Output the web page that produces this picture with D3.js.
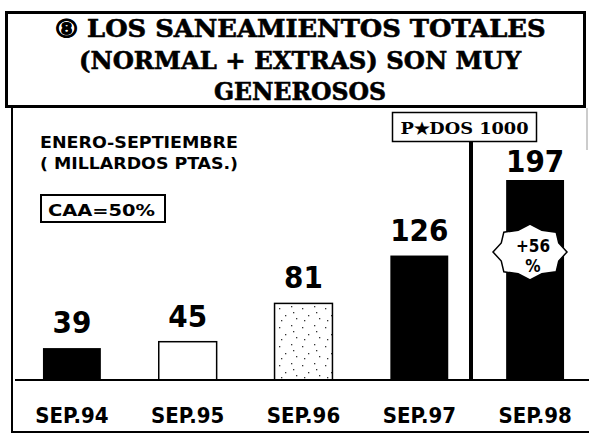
<!DOCTYPE html>
<html>
<head>
<meta charset="utf-8">
<script src="https://cdn.jsdelivr.net/npm/d3@7"></script>
<style>
  html, body { margin: 0; padding: 0; background: #fff; }
  svg { display: block; }
  .num { font-family: "DejaVu Sans Condensed", "DejaVu Sans", sans-serif; font-weight: bold; }
  .serif { font-family: "DejaVu Serif", "Liberation Serif", serif; font-weight: bold; }
</style>
</head>
<body>
<div id="chart"></div>
<script>
// data
const categories = ['SEP.94', 'SEP.95', 'SEP.96', 'SEP.97', 'SEP.98'];
const values = [39, 45, 81, 126, 197];
const fills = ['black', 'white', 'stipple', 'black', 'black'];
const titleLines = ['\u2467 LOS SANEAMIENTOS TOTALES', '(NORMAL + EXTRAS) SON MUY', 'GENEROSOS'];
const subtitleLines = ['ENERO-SEPTIEMBRE', '( MILLARDOS PTAS.)'];
const cagrLabel = 'CAA=50%';
const forecastLabel = 'P\u2605DOS 1000';
const growthLabel = ['+56', '%'];

const width = 589, height = 435;
const baseline = 380;

const svg = d3.select('#chart').append('svg')
  .attr('width', width)
  .attr('height', height);

svg.append('rect').attr('width', width).attr('height', height).attr('fill', '#fff');

// stipple pattern for the 1996 bar (sparse dots)
const defs = svg.append('defs');
const pat = defs.append('pattern')
  .attr('id', 'stipple')
  .attr('patternUnits', 'userSpaceOnUse')
  .attr('width', 23).attr('height', 19);
pat.append('rect').attr('width', 23).attr('height', 19).attr('fill', '#fff');
[[3, 4], [15, 2], [9, 11], [20, 14], [5, 16], [17, 8]].forEach(([px, py]) => {
  pat.append('rect').attr('x', px).attr('y', py).attr('width', 1.3).attr('height', 1.3).attr('fill', '#333');
});

// scales
const x = d3.scaleBand()
  .domain(categories)
  .range([14, 593])
  .paddingInner(0.5)
  .paddingOuter(0.25);

const y = d3.scaleLinear()
  .domain([9, 197])
  .range([baseline, 180]);

// frame: title box
svg.append('rect')
  .attr('x', 6.5).attr('y', 12.5)
  .attr('width', 578).attr('height', 94)
  .attr('fill', 'none').attr('stroke', '#000').attr('stroke-width', 3);

// chart frame lines
svg.append('line').attr('x1', 12).attr('x2', 12).attr('y1', 106).attr('y2', 433)
  .attr('stroke', '#000').attr('stroke-width', 2);
svg.append('line').attr('x1', 12).attr('x2', 589).attr('y1', 432).attr('y2', 432)
  .attr('stroke', '#000').attr('stroke-width', 2);
svg.append('line').attr('x1', 587).attr('x2', 587).attr('y1', 108).attr('y2', 150)
  .attr('stroke', '#999').attr('stroke-width', 1);

// title
const titleWidths = [491, 442, 172];
svg.append('g').selectAll('text')
  .data(titleLines)
  .enter().append('text')
  .attr('class', 'serif')
  .attr('x', 300)
  .attr('y', (d, i) => 37 + i * 31.5)
  .attr('text-anchor', 'middle')
  .attr('font-size', 24)
  .attr('stroke', '#000')
  .attr('stroke-width', 0.6)
  .attr('textLength', (d, i) => titleWidths[i])
  .attr('lengthAdjust', 'spacingAndGlyphs')
  .text(d => d);

// subtitle
svg.append('g').selectAll('text')
  .data(subtitleLines)
  .enter().append('text')
  .attr('class', 'num')
  .attr('x', 40)
  .attr('y', (d, i) => 148 + i * 21)
  .attr('font-size', 16)
  .attr('textLength', 198)
  .attr('lengthAdjust', 'spacingAndGlyphs')
  .text(d => d);

// CAA box
svg.append('rect')
  .attr('x', 41).attr('y', 195)
  .attr('width', 124).attr('height', 27)
  .attr('fill', '#fff').attr('stroke', '#000').attr('stroke-width', 2);
svg.append('text')
  .attr('class', 'num')
  .attr('x', 48).attr('y', 216)
  .attr('font-size', 16)
  .attr('textLength', 107)
  .attr('lengthAdjust', 'spacingAndGlyphs')
  .text(cagrLabel);

// forecast divider + box
svg.append('line')
  .attr('x1', 471).attr('x2', 471)
  .attr('y1', 140).attr('y2', baseline)
  .attr('stroke', '#000').attr('stroke-width', 4);
svg.append('rect')
  .attr('x', 392.5).attr('y', 112.5)
  .attr('width', 144).attr('height', 29)
  .attr('fill', '#fff').attr('stroke', '#000').attr('stroke-width', 1.5);
svg.append('text')
  .attr('class', 'serif')
  .attr('x', 464.5).attr('y', 134)
  .attr('text-anchor', 'middle')
  .attr('font-size', 16)
  .attr('textLength', 128)
  .attr('lengthAdjust', 'spacingAndGlyphs')
  .text(forecastLabel);

// bars
const rows = categories.map((c, i) => ({ cat: c, value: values[i], fill: fills[i] }));

svg.append('g').selectAll('rect')
  .data(rows)
  .enter().append('rect')
  .attr('x', d => x(d.cat))
  .attr('y', d => y(d.value))
  .attr('width', x.bandwidth())
  .attr('height', d => baseline - y(d.value))
  .attr('fill', d => d.fill === 'stipple' ? 'url(#stipple)' : d.fill)
  .attr('stroke', '#000')
  .attr('stroke-width', d => d.fill === 'black' ? 0 : 1.5);

// baseline
svg.append('line')
  .attr('x1', 15).attr('x2', 589)
  .attr('y1', baseline).attr('y2', baseline)
  .attr('stroke', '#000').attr('stroke-width', 2);

// value labels
svg.append('g').selectAll('text')
  .data(rows)
  .enter().append('text')
  .attr('class', 'num')
  .attr('x', d => x(d.cat) + x.bandwidth() / 2)
  .attr('y', d => Math.max(y(d.value) - 15, 172))
  .attr('text-anchor', 'middle')
  .attr('font-size', 31)
  .text(d => d.value);

// category labels
svg.append('g').selectAll('text')
  .data(categories)
  .enter().append('text')
  .attr('class', 'num')
  .attr('x', d => x(d) + x.bandwidth() / 2)
  .attr('y', 423)
  .attr('text-anchor', 'middle')
  .attr('font-size', 22)
  .text(d => d);

// +56% burst on the last bar
const cx = 530, cy = 252;
const starPts = d3.range(16).map(i => {
  const a = -Math.PI / 2 + i * Math.PI / 8;
  const k = i % 2 === 0 ? 1 : 0.84;
  return [cx + Math.cos(a) * 37 * k, cy + Math.sin(a) * 28 * k];
});
svg.append('polygon')
  .attr('points', starPts.map(p => p.join(',')).join(' '))
  .attr('fill', '#fff')
  .attr('stroke', '#000')
  .attr('stroke-width', 1.5);
svg.append('g').selectAll('text')
  .data(growthLabel)
  .enter().append('text')
  .attr('class', 'num')
  .attr('x', 533)
  .attr('y', (d, i) => 252 + i * 20)
  .attr('text-anchor', 'middle')
  .attr('font-size', 17)
  .text(d => d);
</script>
</body>
</html>
